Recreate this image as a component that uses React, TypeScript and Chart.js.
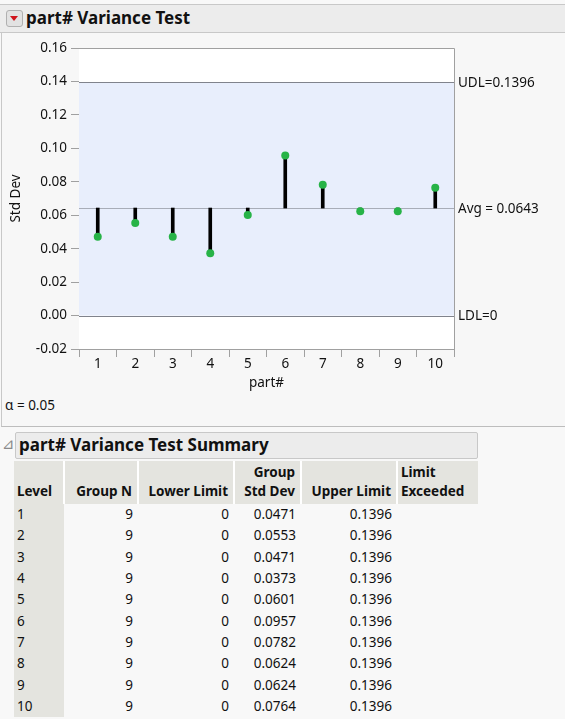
import React, { useEffect, useRef } from 'react';
import Chart from 'chart.js/auto';

const parts = ['1', '2', '3', '4', '5', '6', '7', '8', '9', '10'];
const groupStdDev = [0.0471, 0.0553, 0.0471, 0.0373, 0.0601, 0.0957, 0.0782, 0.0624, 0.0624, 0.0764];
const groupN = [9, 9, 9, 9, 9, 9, 9, 9, 9, 9];
const lowerLimits = [0, 0, 0, 0, 0, 0, 0, 0, 0, 0];
const upperLimits = [0.1396, 0.1396, 0.1396, 0.1396, 0.1396, 0.1396, 0.1396, 0.1396, 0.1396, 0.1396];
const avgStd = 0.0643;
const udl = 0.1396;
const ldl = 0;

const FONT = '"Noto Sans", "Open Sans", sans-serif';

const limitsPlugin = {
  id: 'limits',
  beforeDatasetsDraw(chart: any) {
    const { ctx, chartArea: a, scales } = chart;
    const y = scales.y;
    const yU = y.getPixelForValue(udl);
    const yA = y.getPixelForValue(avgStd);
    const yL = y.getPixelForValue(ldl);
    ctx.save();
    ctx.fillStyle = '#ffffff';
    ctx.fillRect(a.left, a.top, a.right - a.left, a.bottom - a.top);
    ctx.fillStyle = '#e8eefc';
    ctx.fillRect(a.left, yU, a.right - a.left, yL - yU);
    ctx.lineWidth = 1;
    ctx.strokeStyle = '#80838c';
    [yU, yL].forEach(p => {
      ctx.beginPath();
      ctx.moveTo(a.left, Math.round(p) + 0.5);
      ctx.lineTo(a.right, Math.round(p) + 0.5);
      ctx.stroke();
    });
    ctx.strokeStyle = '#a8adb8';
    ctx.beginPath();
    ctx.moveTo(a.left, Math.round(yA) + 0.5);
    ctx.lineTo(a.right, Math.round(yA) + 0.5);
    ctx.stroke();
    ctx.restore();
  },
  afterDraw(chart: any) {
    const { ctx, chartArea: a, scales } = chart;
    const y = scales.y;
    ctx.save();
    ctx.strokeStyle = '#a0a0a0';
    ctx.lineWidth = 1;
    ctx.beginPath();
    ctx.moveTo(a.left, a.top + 0.5);
    ctx.lineTo(a.right + 0.5, a.top + 0.5);
    ctx.lineTo(a.right + 0.5, a.bottom + 8);
    ctx.stroke();
    ctx.fillStyle = '#111111';
    ctx.font = `13.5px ${FONT}`;
    ctx.textBaseline = 'middle';
    ctx.textAlign = 'left';
    ctx.fillText(`UDL=${udl}`, a.right + 4, y.getPixelForValue(udl) + 1);
    ctx.fillText(`Avg = ${avgStd}`, a.right + 4, y.getPixelForValue(avgStd) + 1);
    ctx.fillText(`LDL=${ldl}`, a.right + 4, y.getPixelForValue(ldl) + 1);
    ctx.restore();
  },
};

const VarianceChart: React.FC = () => {
  const canvasRef = useRef<HTMLCanvasElement | null>(null);
  const chartInstance = useRef<Chart | null>(null);

  useEffect(() => {
    if (!canvasRef.current) return;
    const ctx = canvasRef.current.getContext('2d');
    if (!ctx) return;

    chartInstance.current = new Chart(ctx, {
      type: 'bar',
      data: {
        labels: parts,
        datasets: [
          {
            type: 'line',
            data: groupStdDev,
            showLine: false,
            pointRadius: 4,
            pointBackgroundColor: '#27b347',
            pointBorderColor: '#27b347',
            pointBorderWidth: 0,
            order: 1,
          },
          {
            type: 'bar',
            data: groupStdDev.map(v => [avgStd, v]),
            backgroundColor: '#000000',
            barThickness: 3,
            order: 2,
          },
        ] as any,
      },
      options: {
        animation: false,
        responsive: false,
        layout: { padding: { left: 0, right: 111, top: 14, bottom: 0 } },
        plugins: {
          legend: { display: false },
          tooltip: { enabled: false },
        },
        scales: {
          x: {
            afterFit: (s: any) => {
              s.height = 47;
            },
            grid: {
              offset: true,
              drawOnChartArea: false,
              tickLength: 8,
              color: '#a0a0a0',
            },
            border: { color: '#a0a0a0' },
            ticks: {
              color: '#111111',
              padding: -1,
              font: { family: FONT, size: 13.5 },
            },
            title: {
              display: true,
              text: 'part#',
              color: '#111111',
              padding: { top: 0, bottom: 5 },
              font: { family: FONT, size: 13.5 },
            },
          },
          y: {
            min: -0.02,
            max: 0.16,
            afterFit: (s: any) => {
              s.width = 79;
            },
            grid: {
              drawOnChartArea: false,
              tickLength: 8,
              color: '#a0a0a0',
            },
            border: { color: '#a0a0a0' },
            ticks: {
              stepSize: 0.02,
              color: '#111111',
              padding: 4,
              font: { family: FONT, size: 13.5 },
              callback: (v: any) => Number(v).toFixed(2),
            },
            title: {
              display: true,
              text: 'Std Dev',
              color: '#111111',
              padding: { top: 8, bottom: 0 },
              font: { family: FONT, size: 13.5 },
            },
          },
        },
      },
      plugins: [limitsPlugin],
    });

    return () => {
      chartInstance.current?.destroy();
      chartInstance.current = null;
    };
  }, []);

  return <canvas ref={canvasRef} width={565} height={362} style={{ position: 'absolute', left: 0, top: 34, width: 565, height: 362 }} />;
};

const colWidths = [50, 74, 96, 67, 96, 81];
const headCell: React.CSSProperties = {
  background: '#e4e4df',
  fontWeight: 'bold',
  verticalAlign: 'bottom',
  padding: '1px 5px 3px 3px',
  lineHeight: '19px',
  borderRight: '2px solid #ffffff',
  boxSizing: 'border-box',
};
const cell: React.CSSProperties = {
  padding: '0 5px 0 3px',
  height: 21.3,
  lineHeight: '21px',
  boxSizing: 'border-box',
  textAlign: 'right',
};

const App: React.FC = () => {
  return (
    <div
      style={{
        position: 'absolute',
        left: 0,
        top: 0,
        width: 565,
        height: 719,
        background: '#f8f8f8',
        fontFamily: FONT,
        fontSize: 13.5,
        color: '#111111',
        overflow: 'hidden',
      }}
    >
      <div
        style={{
          position: 'absolute',
          left: 0,
          top: 4,
          width: 565,
          height: 27,
          background: '#ececec',
          borderTop: '1px solid #c8c8c8',
          borderBottom: '1px solid #c8c8c8',
        }}
      >
        <div
          style={{
            position: 'absolute',
            left: 6,
            top: 5,
            width: 15,
            height: 15,
            background: '#e2e2e2',
            border: '1px solid #b0b0b0',
            borderRadius: 3,
          }}
        >
          <div
            style={{
              position: 'absolute',
              left: 3,
              top: 5,
              width: 0,
              height: 0,
              borderLeft: '4.5px solid transparent',
              borderRight: '4.5px solid transparent',
              borderTop: '5px solid #d0141c',
            }}
          />
        </div>
        <div style={{ position: 'absolute', left: 26, top: 2, fontWeight: 'bold', fontSize: 17, lineHeight: '22px' }}>
          part# Variance Test
        </div>
      </div>
      <div
        style={{
          position: 'absolute',
          left: 1,
          top: 33,
          width: 564,
          height: 393,
          background: '#f7f7f7',
          borderLeft: '1px solid #c8c8c8',
          borderBottom: '1px solid #bdbdbd',
        }}
      />
      <VarianceChart />
      <div style={{ position: 'absolute', left: 5, top: 396, lineHeight: '18px' }}>α = 0.05</div>
      <div style={{ position: 'absolute', left: 2, top: 433, color: '#8a8a8a', fontSize: 15, fontFamily: '"DejaVu Sans", sans-serif', lineHeight: '22px' }}>
        ⊿
      </div>
      <div
        style={{
          position: 'absolute',
          left: 15,
          top: 432,
          width: 461,
          height: 25,
          background: '#ececec',
          border: '1px solid #c8c8c8',
          borderRadius: 2,
        }}
      >
        <div style={{ position: 'absolute', left: 3, top: 1, fontWeight: 'bold', fontSize: 17, lineHeight: '22px' }}>
          part# Variance Test Summary
        </div>
      </div>
      <table
        style={{
          position: 'absolute',
          left: 14,
          top: 461,
          borderCollapse: 'collapse',
          tableLayout: 'fixed',
          fontFamily: FONT,
          fontSize: 13.5,
          color: '#111111',
        }}
      >
        <colgroup>
          {colWidths.map((w, i) => (
            <col key={i} style={{ width: w }} />
          ))}
        </colgroup>
        <thead>
          <tr style={{ height: 43 }}>
            <th style={{ ...headCell, textAlign: 'left' }}>Level</th>
            <th style={{ ...headCell, textAlign: 'right' }}>Group N</th>
            <th style={{ ...headCell, textAlign: 'right' }}>Lower Limit</th>
            <th style={{ ...headCell, textAlign: 'right' }}>
              Group
              <br />
              Std Dev
            </th>
            <th style={{ ...headCell, textAlign: 'right' }}>Upper Limit</th>
            <th style={{ ...headCell, textAlign: 'left', borderRight: 'none' }}>
              Limit
              <br />
              Exceeded
            </th>
          </tr>
        </thead>
        <tbody>
          {parts.map((p, i) => (
            <tr key={p}>
              <td style={{ ...cell, textAlign: 'left', background: '#e4e4df' }}>{p}</td>
              <td style={cell}>{groupN[i]}</td>
              <td style={cell}>{lowerLimits[i]}</td>
              <td style={cell}>{groupStdDev[i].toFixed(4)}</td>
              <td style={cell}>{upperLimits[i].toFixed(4)}</td>
              <td style={cell}></td>
            </tr>
          ))}
        </tbody>
      </table>
    </div>
  );
};

export default App;
